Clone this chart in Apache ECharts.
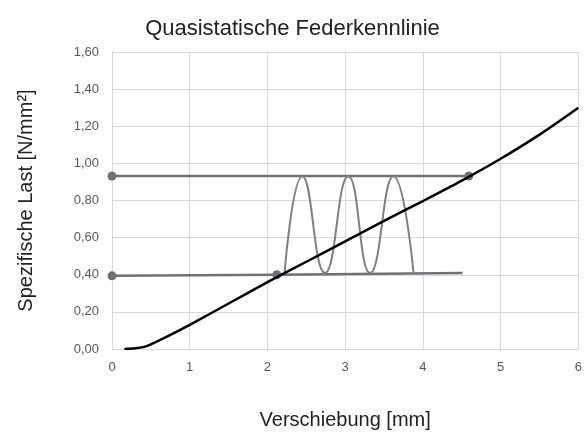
<!DOCTYPE html>
<html><head><meta charset="utf-8">
<script src="https://cdn.jsdelivr.net/npm/echarts@6/dist/echarts.min.js"></script>
<style>html,body{margin:0;padding:0;background:#fff}#c{width:585px;height:437px}</style>
</head><body><div id="c"></div>
<script>
var title = "Quasistatische Federkennlinie";
var xName = "Verschiebung [mm]";
var yName = "Spezifische Last [N/mm²]";
// Kennlinie (black)
var curveX = [0.16, 0.3, 0.4, 0.5, 0.7, 1.0, 1.5, 2.0, 2.5, 3.0, 3.5, 4.0, 4.5, 5.0, 5.5, 6.0];
var curveY = [0.0, 0.004, 0.01, 0.025, 0.065, 0.13, 0.245, 0.36, 0.47, 0.58, 0.69, 0.797, 0.907, 1.025, 1.155, 1.30];
// upper horizontal line
var upperX = [0, 4.59];
var upperY = [0.932, 0.932];
// lower horizontal line (marker on first two points)
var lowerX = [0, 2.12, 4.51];
var lowerY = [0.394, 0.40, 0.409];
var lowerMarked = [true, true, false];
// oscillation
var oscX = [2.22, 2.45, 2.74, 3.04, 3.32, 3.62, 3.88];
var oscY = [0.41, 0.93, 0.41, 0.93, 0.41, 0.93, 0.41];

function zip(a, b) { return a.map(function (v, i) { return [v, b[i]]; }); }
var FONT = '"Liberation Sans", Arial, sans-serif';
var gray = '#707173';
var chart = echarts.init(document.getElementById('c'));
chart.setOption({
  animation: false,
  title: { text: title, left: 'center', top: 13,
    textStyle: { fontFamily: FONT, fontSize: 22, fontWeight: 'normal', color: '#222' } },
  grid: { left: 112, right: 6, top: 52, bottom: 88 },
  xAxis: { type: 'value', min: 0, max: 6, interval: 1,
    name: xName, nameLocation: 'middle', nameGap: 61,
    nameTextStyle: { fontFamily: FONT, fontSize: 20, color: '#222' },
    axisLine: { show: true, lineStyle: { color: '#d9d9d9', width: 1 } },
    axisTick: { show: false },
    axisLabel: { margin: 12, fontFamily: FONT, fontSize: 13, color: '#595959' },
    splitLine: { show: true, lineStyle: { color: '#d9d9d9', width: 1 } } },
  yAxis: { type: 'value', min: 0, max: 1.6, interval: 0.2,
    name: yName, nameLocation: 'middle', nameGap: 76, nameRotate: 90,
    nameTextStyle: { fontFamily: FONT, fontSize: 20, color: '#222' },
    axisLine: { show: true, lineStyle: { color: '#d9d9d9', width: 1 } },
    axisTick: { show: false },
    axisLabel: { margin: 13, fontFamily: FONT, fontSize: 13, color: '#595959',
      formatter: function (v) { return v.toFixed(2).replace('.', ','); } },
    splitLine: { show: true, lineStyle: { color: '#d9d9d9', width: 1 } } },
  series: [
    { type: 'line', data: zip(upperX, upperY), symbol: 'circle', symbolSize: 9,
      lineStyle: { color: gray, width: 2.5 }, itemStyle: { color: gray } },
    { type: 'line', data: zip(lowerX, lowerY).map(function (p, i) {
        return lowerMarked[i] ? { value: p } : { value: p, symbol: 'none' }; }),
      symbol: 'circle', symbolSize: 9,
      lineStyle: { color: gray, width: 2.5 }, itemStyle: { color: gray } },
    { type: 'line', data: zip(oscX, oscY), smooth: 0.5, showSymbol: false,
      lineStyle: { color: '#808080', width: 2 } },
    { type: 'line', data: zip(curveX, curveY), smooth: 0.3, showSymbol: false,
      lineStyle: { color: '#000', width: 2.5 }, z: 5 }
  ]
});
</script></body></html>
